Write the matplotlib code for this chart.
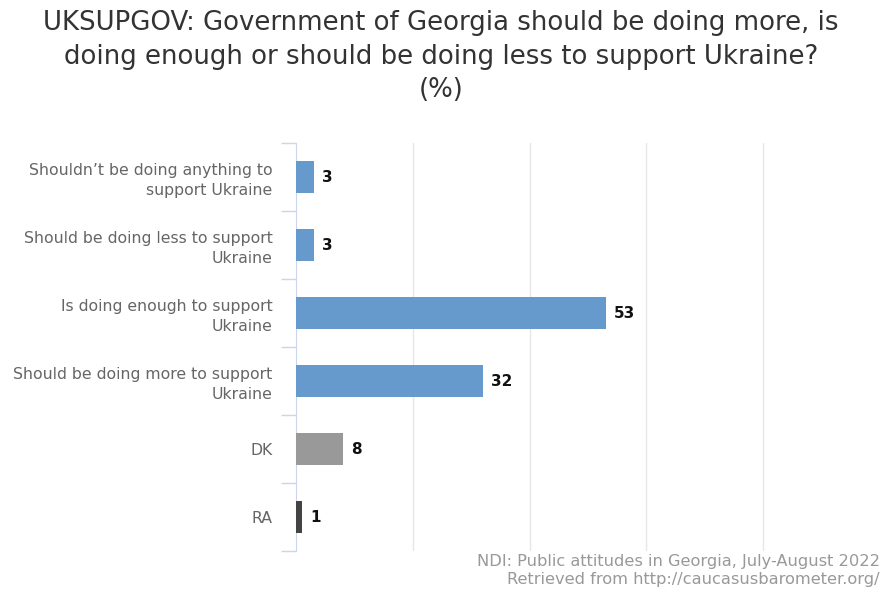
import matplotlib
import matplotlib.pyplot as plt

matplotlib.use('Agg')
plt.rcParams['font.family'] = ['DejaVu Sans']

# data
categories = [
    "Shouldn’t be doing anything to\nsupport Ukraine",
    "Should be doing less to support\nUkraine",
    "Is doing enough to support\nUkraine",
    "Should be doing more to support\nUkraine",
    "DK",
    "RA",
]
values = [3, 3, 53, 32, 8, 1]
bar_colors = ["#6699cc", "#6699cc", "#6699cc", "#6699cc", "#999999", "#444444"]

title = ("UKSUPGOV: Government of Georgia should be doing more, is\n"
         "doing enough or should be doing less to support Ukraine?\n(%)")
source = "NDI: Public attitudes in Georgia, July-August 2022\nRetrieved from http://caucasusbarometer.org/"

fig = plt.figure(figsize=(8.82, 5.89), dpi=100)
ax = fig.add_axes([296 / 882, 38 / 589, 584 / 882, 408 / 589])

ypos = list(range(len(categories)))
ax.barh(ypos, values, height=0.47, color=bar_colors, zorder=3)
for y, v in zip(ypos, values):
    ax.annotate(str(v), (v, y), xytext=(6, 0), textcoords='offset points',
                va='center', ha='left', fontsize=11, fontweight='bold', color='#111111')

ax.set_xlim(0, 100)
ax.set_ylim(len(categories) - 0.5, -0.5)
ax.set_xticks([20, 40, 60, 80])
ax.set_xticklabels([])
ax.tick_params(axis='x', length=0)
ax.grid(axis='x', color='#e6e6e6', linewidth=1, zorder=0)

# category axis with ticks between categories
ax.set_yticks(ypos)
ax.set_yticklabels(categories, fontsize=11.3, color='#666666', linespacing=1.38)
ax.tick_params(axis='y', length=0, pad=17)
ax.set_yticks([i - 0.5 for i in range(len(categories) + 1)], minor=True)
ax.tick_params(axis='y', which='minor', length=11, color='#ccd6eb', width=1)
for lab in ax.get_yticklabels():
    lab.set_horizontalalignment('right')

for s in ['top', 'right', 'bottom']:
    ax.spines[s].set_visible(False)
ax.spines['left'].set_color('#ccd6eb')

fig.text(0.5, 0.983, title, ha='center', va='top', fontsize=18.7, color='#333333',
         linespacing=1.38)
fig.text(880 / 882, 2 / 589, source, ha='right', va='bottom', fontsize=11.7,
         color='#999999', linespacing=1.25)

fig.savefig('out.png', dpi=100)
